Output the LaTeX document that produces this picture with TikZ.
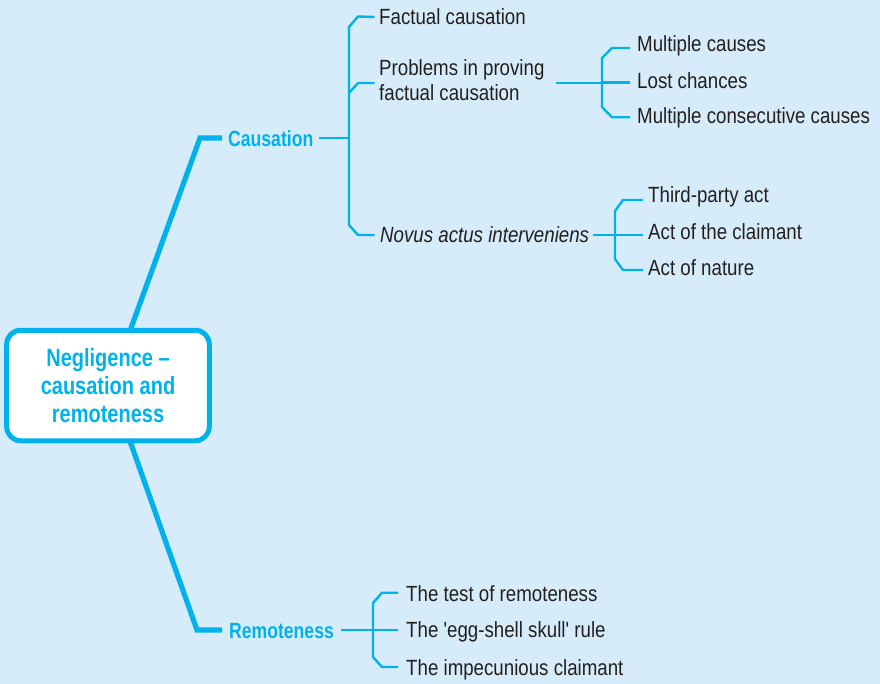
\documentclass[tikz,border=0pt]{standalone}
\usepackage{fontspec}
\setmainfont{Liberation Sans}
\newfontfamily\condreg{Liberation Sans}[FakeStretch=0.85]
\newfontfamily\condbold{Liberation Sans}[FakeStretch=0.8]
\definecolor{bg}{HTML}{D6ECFA}
\definecolor{cy}{HTML}{00B2EB}
\definecolor{ink}{HTML}{231F20}
\tikzset{
  itemfont/.style={inner sep=0pt, text=ink, font=\condreg\fontsize{22}{25}\selectfont},
  item/.style={itemfont, anchor=west, text height=15.7pt, text depth=0pt},
  branchlabel/.style={anchor=west, inner sep=0pt, text height=16.7pt, text depth=0pt, text=cy,
    font=\condbold\bfseries\fontsize{22}{25}\selectfont},
  rootbox/.style={draw=cy, line width=5pt, fill=white, rounded corners=14pt,
    minimum width=202.6pt, minimum height=110.5pt, inner sep=0pt, align=center,
    text=cy, font=\condbold\bfseries\fontsize{25}{28}\selectfont},
  mainline/.style={draw=cy, line width=5.2pt, line join=miter},
  brk/.style={draw=cy, line width=2.4pt, line join=miter},
}
\begin{document}
\begin{tikzpicture}[x=1pt,y=-1pt]
\fill[bg] (0,0) rectangle (880,684);
\useasboundingbox (0,0) rectangle (880,684);

% main branches
\coordinate (topbend) at (200,138);
\coordinate (botbend) at (197,630);
\node[branchlabel] (caus) at (228,138) {Causation};
\node[branchlabel] (remo) at (229,630) {Remoteness};
\draw[mainline] (130,331) -- (topbend) -- ([xshift=-6pt]caus.west);
\draw[mainline] (130,441) -- (botbend) -- ([xshift=-7pt]remo.west);

% root
\node[rootbox] (root) at (108,385.5) {Negligence –\\causation and\\remoteness};

% causation children
\node[item] (fact) at (379,17) {Factual causation};
\node[itemfont, anchor=west, align=left] (prob) at (379,80.5) {Problems in proving\\factual causation};
\node[item] (novus) at (380,235) {\itshape Novus actus interveniens};

\coordinate (cv) at (349,138);
\draw[brk] ([xshift=6pt]caus.east) -- (cv);
\draw[brk] ([xshift=-4.5pt]fact.west) -- (358,16.5) -- (349,27) -- (349,225) -- (358,235) -- ([xshift=-5.5pt]novus.west);
\draw[brk] (349,93) -- (358,83) -- (374.5,83);

% problems children
\node[item] (mc) at (637,44) {Multiple causes};
\node[item] (lc) at (637,81) {Lost chances};
\node[item] (mcc) at (637,115.5) {Multiple consecutive causes};
\draw[brk] (556,83) -- (602,83);
\draw[brk] ([xshift=-7pt]mc.west |- 0,48) -- (612,48) -- (602,58) -- (602,107) -- (612,117.3) -- (630,117.3);
\draw[brk] (602,82.7) -- (630,82.7);

% novus children
\node[item] (tp) at (648,194.7) {Third-party act};
\node[item] (ac) at (648,231.7) {Act of the claimant};
\node[item] (an) at (648,267.5) {Act of nature};
\draw[brk] ([xshift=4pt]novus.east |- 0,235) -- (643,235);
\draw[brk] (643,200) -- (623,200) -- (615,211) -- (615,259) -- (623,270) -- (643,270);

% remoteness children
\node[item] (tr) at (406,593.3) {The test of remoteness};
\node[item] (eg) at (406,630) {The 'egg-shell skull' rule};
\node[item] (ic) at (406,668) {The impecunious claimant};
\draw[brk] ([xshift=7pt]remo.east) -- (398,630);
\draw[brk] (398,592.7) -- (382,592.7) -- (373,603) -- (373,657) -- (382,667) -- (398,667);
\end{tikzpicture}
\end{document}
